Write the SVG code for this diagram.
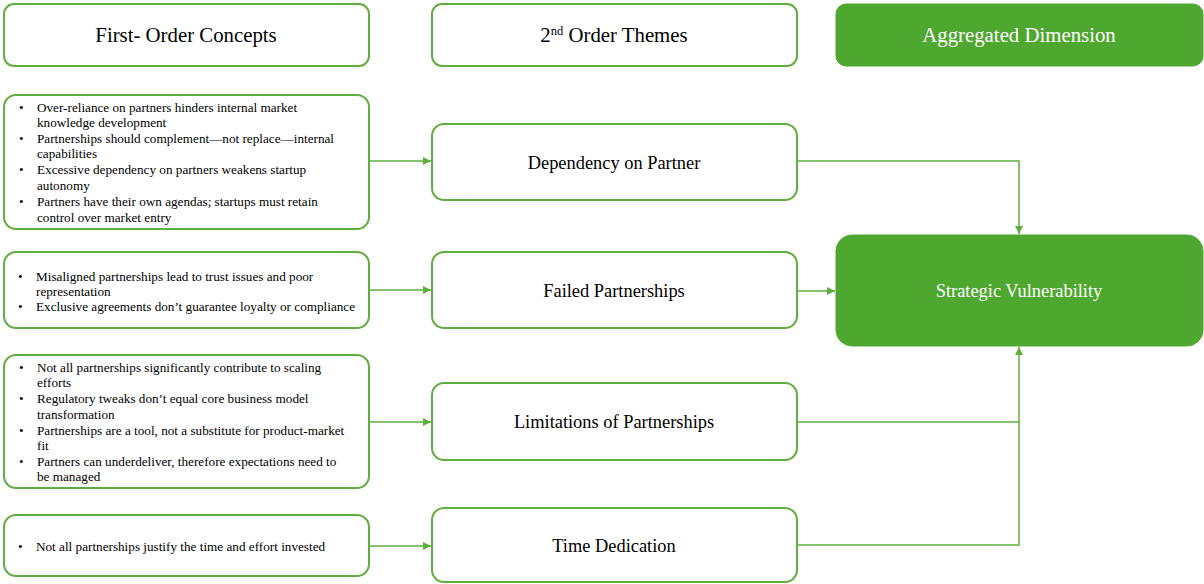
<svg xmlns="http://www.w3.org/2000/svg" width="1204" height="584" viewBox="0 0 1204 584">
<style>
.box{fill:#fff;stroke:#5FAE3F;stroke-width:2}
.fill{fill:#4EA72E;stroke:#4EA72E;stroke-width:1}
.h{font-family:"Liberation Serif",serif;font-size:20.8px;fill:#000;text-anchor:middle}
.m{font-family:"Liberation Serif",serif;font-size:18.4px;fill:#000;text-anchor:middle}
.w{fill:#fff}
.b{font-family:"Liberation Serif",serif;font-size:13.2px;fill:#000}
.c{fill:none;stroke:#5FAE3F;stroke-width:1.5}
</style>
<defs>
<marker id="arr" viewBox="0 0 10 10" refX="10" refY="5" markerWidth="8" markerHeight="8" markerUnits="userSpaceOnUse" orient="auto">
<path d="M0,0 L10,5 L0,10 z" fill="#5FAE3F"/>
</marker>
</defs>
<g id="hdr1"><rect class="box" x="4" y="4" width="365" height="62" rx="10"/><text class="h" x="186" y="42">First- Order Concepts</text></g>
<g id="hdr2"><rect class="box" x="432" y="4" width="365" height="62" rx="10"/><text class="h" x="614" y="42">2<tspan font-size="12.5" dy="-7">nd</tspan><tspan dy="7"> Order Themes</tspan></text></g>
<g id="hdr3"><rect class="fill" x="836" y="4" width="367" height="62" rx="10"/><text class="h w" x="1019" y="42">Aggregated Dimension</text></g>

<g id="c1"><rect class="box" x="4" y="95" width="365" height="134" rx="12"/>
<g class="b">
<text x="19" y="112">•</text><text x="37" y="112">Over-reliance on partners hinders internal market</text>
<text x="37" y="127">knowledge development</text>
<text x="19" y="143">•</text><text x="37" y="143">Partnerships should complement—not replace—internal</text>
<text x="37" y="158">capabilities</text>
<text x="19" y="174">•</text><text x="37" y="174">Excessive dependency on partners weakens startup</text>
<text x="37" y="190">autonomy</text>
<text x="19" y="206">•</text><text x="37" y="206">Partners have their own agendas; startups must retain</text>
<text x="37" y="222">control over market entry</text>
</g></g>

<g id="c2"><rect class="box" x="4" y="252" width="365" height="76" rx="12"/>
<g class="b">
<text x="18" y="281">•</text><text x="36" y="281">Misaligned partnerships lead to trust issues and poor</text>
<text x="36" y="296">representation</text>
<text x="18" y="311">•</text><text x="36" y="311">Exclusive agreements don’t guarantee loyalty or compliance</text>
</g></g>

<g id="c3"><rect class="box" x="4" y="355" width="365" height="133" rx="12"/>
<g class="b">
<text x="19" y="372">•</text><text x="37" y="372">Not all partnerships significantly contribute to scaling</text>
<text x="37" y="387">efforts</text>
<text x="19" y="403">•</text><text x="37" y="403">Regulatory tweaks don’t equal core business model</text>
<text x="37" y="419">transformation</text>
<text x="19" y="435">•</text><text x="37" y="435">Partnerships are a tool, not a substitute for product-market</text>
<text x="37" y="450">fit</text>
<text x="19" y="466">•</text><text x="37" y="466">Partners can underdeliver, therefore expectations need to</text>
<text x="37" y="481">be managed</text>
</g></g>

<g id="c4"><rect class="box" x="4" y="515" width="365" height="61" rx="12"/>
<g class="b"><text x="18" y="551">•</text><text x="36" y="551">Not all partnerships justify the time and effort invested</text></g></g>

<g id="t1"><rect class="box" x="432" y="124" width="365" height="76" rx="12"/><text class="m" x="614" y="169">Dependency on Partner</text></g>
<g id="t2"><rect class="box" x="432" y="252" width="365" height="76" rx="12"/><text class="m" x="614" y="297">Failed Partnerships</text></g>
<g id="t3"><rect class="box" x="432" y="383" width="365" height="77" rx="12"/><text class="m" x="614" y="428">Limitations of Partnerships</text></g>
<g id="t4"><rect class="box" x="432" y="508" width="365" height="74" rx="12"/><text class="m" x="614" y="552">Time Dedication</text></g>

<g id="agg"><rect class="fill" x="836" y="235" width="367" height="111" rx="16"/><text class="m w" x="1019" y="297">Strategic Vulnerability</text></g>

<g id="connectors">
<path class="c" d="M369,161 H431" marker-end="url(#arr)"/>
<path class="c" d="M369,290 H431" marker-end="url(#arr)"/>
<path class="c" d="M369,422 H431" marker-end="url(#arr)"/>
<path class="c" d="M369,546 H431" marker-end="url(#arr)"/>
<path class="c" d="M797,161 H1019 V234" marker-end="url(#arr)"/>
<path class="c" d="M797,291 H835" marker-end="url(#arr)"/>
<path class="c" d="M797,422 H1019"/>
<path class="c" d="M797,545 H1019 V347" marker-end="url(#arr)"/>
</g>
</svg>
